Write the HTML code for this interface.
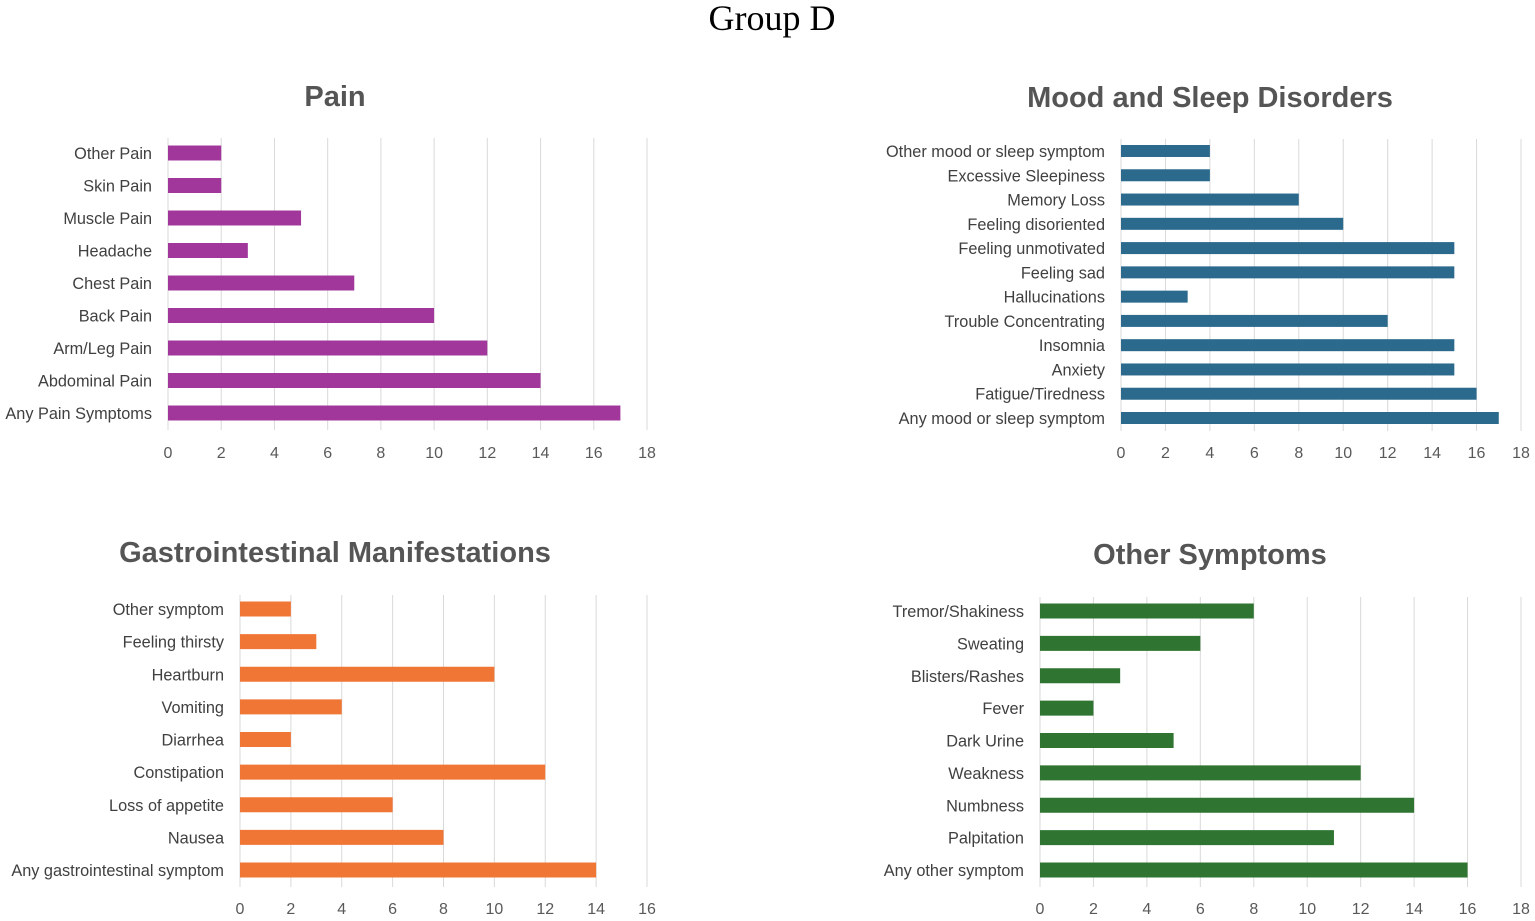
<!DOCTYPE html>
<html><head><meta charset="utf-8"><style>
body{margin:0;background:#fff;width:1535px;height:921px;overflow:hidden}
svg{display:block}
</style></head><body>
<svg id="s" width="1535" height="921" xmlns="http://www.w3.org/2000/svg">
<text x="772" y="30" text-anchor="middle" font-family="Liberation Serif, serif" font-size="36" fill="#000">Group D</text>
</svg>
<script>
const painCats=["Other Pain","Skin Pain","Muscle Pain","Headache","Chest Pain","Back Pain","Arm/Leg Pain","Abdominal Pain","Any Pain Symptoms"];
const painVals=[2,2,5,3,7,10,12,14,17];
const moodCats=["Other mood or sleep symptom","Excessive Sleepiness","Memory Loss","Feeling disoriented","Feeling unmotivated","Feeling sad","Hallucinations","Trouble Concentrating","Insomnia","Anxiety","Fatigue/Tiredness","Any mood or sleep symptom"];
const moodVals=[4,4,8,10,15,15,3,12,15,15,16,17];
const giCats=["Other symptom","Feeling thirsty","Heartburn","Vomiting","Diarrhea","Constipation","Loss of appetite","Nausea","Any gastrointestinal symptom"];
const giVals=[2,3,10,4,2,12,6,8,14];
const otherCats=["Tremor/Shakiness","Sweating","Blisters/Rashes","Fever","Dark Urine","Weakness","Numbness","Palpitation","Any other symptom"];
const otherVals=[8,6,3,2,5,12,14,11,16];
const ticks18=[0,2,4,6,8,10,12,14,16,18];
const ticks16=[0,2,4,6,8,10,12,14,16];

const NS="http://www.w3.org/2000/svg";
const svg=document.getElementById('s');
function el(t,a,p){const e=document.createElementNS(NS,t);for(const k in a)e.setAttribute(k,a[k]);(p||svg).appendChild(e);return e;}
function chart(c){
  const g=el('g',{});
  
  
  const t=el('text',{x:c.tx,y:c.ty,'text-anchor':'middle','font-family':'Liberation Sans, sans-serif','font-size':29,'font-weight':'bold',fill:'#555'},g);
  t.textContent=c.title;
  
  
  const maxT=c.ticks[c.ticks.length-1];
  const xs=v=>c.x0+(v/maxT)*(c.x1-c.x0);
  const n=c.cats.length;
  const ys=i=>c.yTop+i*(c.yBot-c.yTop)/(n-1);
  c.ticks.forEach(tv=>{
    const l=el('line',{x1:xs(tv),x2:xs(tv),y1:c.gTop,y2:c.gBot,stroke:'#d9d9d9','stroke-width':1},g);
    
    
    const tl=el('text',{x:xs(tv),y:c.tickY,'text-anchor':'middle','font-family':'Liberation Sans, sans-serif','font-size':16,fill:'#595959'},g);
    tl.textContent=tv;
    
    
  });
  c.cats.forEach((cat,i)=>{
    const y=ys(i);
    const r=el('rect',{x:c.x0,y:y-c.bh/2,width:xs(c.vals[i])-c.x0,height:c.bh,fill:c.color},g);
    
    
    const lb=el('text',{x:c.x0-16,y:y+6,'text-anchor':'end','font-family':'Liberation Sans, sans-serif','font-size':16.3,fill:'#404040'},g);
    lb.textContent=cat;
    
    
  });
}
chart({name:'pain',title:'Pain',tx:335,ty:106,cats:painCats,vals:painVals,ticks:ticks18,x0:168,x1:647,yTop:153,yBot:413,bh:15,gTop:138,gBot:430,tickY:458,color:'#a2379b'});
chart({name:'mood',title:'Mood and Sleep Disorders',tx:1210,ty:107,cats:moodCats,vals:moodVals,ticks:ticks18,x0:1121,x1:1521,yTop:151,yBot:418,bh:12,gTop:139,gBot:431,tickY:458,color:'#2b6a8d'});
chart({name:'gi',title:'Gastrointestinal Manifestations',tx:335,ty:562,cats:giCats,vals:giVals,ticks:ticks16,x0:240,x1:647,yTop:609,yBot:870,bh:15,gTop:595,gBot:887,tickY:914,color:'#f07636'});
chart({name:'other',title:'Other Symptoms',tx:1210,ty:564,cats:otherCats,vals:otherVals,ticks:ticks18,x0:1040,x1:1521,yTop:611,yBot:870,bh:15,gTop:597,gBot:887,tickY:914,color:'#2f7430'});
</script>
</body></html>
